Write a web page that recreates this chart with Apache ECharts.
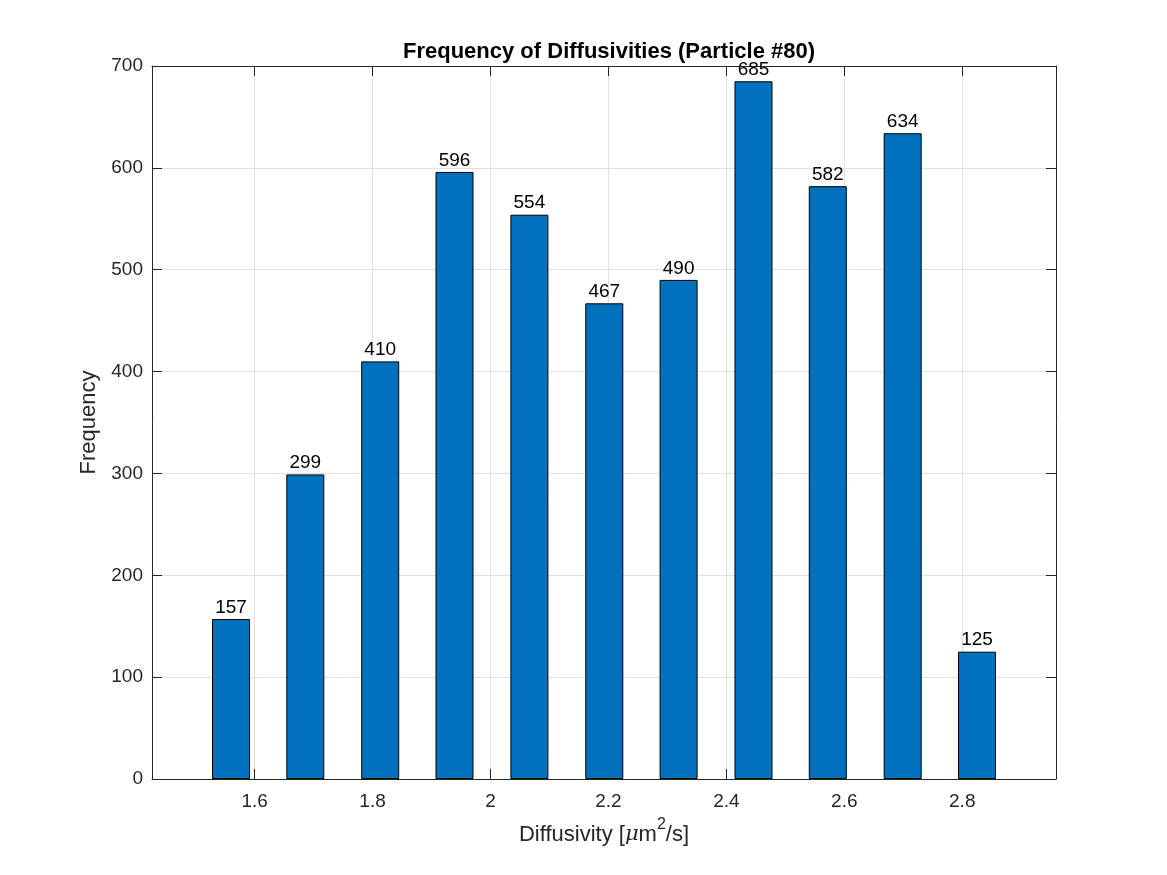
<!DOCTYPE html>
<html>
<head>
<meta charset="utf-8">
<script src="https://cdn.jsdelivr.net/npm/echarts@6/dist/echarts.min.js"></script>
<style>html,body{margin:0;padding:0;background:#fff}#c{width:1167px;height:875px}</style>
</head>
<body>
<div id="c"></div>
<script>
const binCenters = [1.560, 1.686, 1.813, 1.939, 2.066, 2.193, 2.319, 2.446, 2.572, 2.699, 2.825];
const counts = [157, 299, 410, 596, 554, 467, 490, 685, 582, 634, 125];
const xTicks = [1.6, 1.8, 2.0, 2.2, 2.4, 2.6, 2.8];
const titleText = 'Frequency of Diffusivities (Particle #80)';

const FONT = 'Liberation Sans, Arial, Helvetica, sans-serif';
const AX = '#262626';
const GRID = '#e0e0e0';
const X_MIN = 1.426, X_MAX = 2.959;

const chart = echarts.init(document.getElementById('c'));
const fmt = v => (Math.abs(v - Math.round(v)) < 1e-9 ? String(Math.round(v)) : String(+v.toFixed(1)));

const baseX = {
  type: 'value', min: X_MIN, max: X_MAX,
  axisLine: {show: true, onZero: false, lineStyle: {color: AX, width: 1}},
  axisTick: {show: true, inside: true, length: 10, lineStyle: {color: AX}, customValues: xTicks},
  splitLine: {show: false}
};

chart.setOption({
  animation: false,
  title: {
    text: titleText, left: 604, top: 36, textAlign: 'center',
    textStyle: {fontFamily: FONT, fontWeight: 'bold', fontSize: 22, color: '#000'}
  },
  grid: {left: 152, right: 111, top: 66, bottom: 96, containLabel: false},
  xAxis: [
    Object.assign({}, baseX, {
      position: 'bottom',
      axisLabel: {show: true, customValues: xTicks, formatter: fmt, color: AX, fontFamily: FONT, fontSize: 19, margin: 13},
      name: '{t|Diffusivity [}{mu|μ}{t|m}{sup|2}{t|/s]}',
      nameLocation: 'middle', nameGap: 38,
      nameTextStyle: {
        rich: {
          t: {fontFamily: FONT, fontSize: 22, lineHeight: 36, color: AX},
          mu: {fontFamily: 'DejaVu Serif, serif', fontStyle: 'italic', fontSize: 21, lineHeight: 36, color: AX},
          sup: {fontFamily: FONT, fontSize: 16, lineHeight: 16, color: AX, verticalAlign: 'top'}
        }
      }
    }),
    Object.assign({}, baseX, {position: 'top', axisLabel: {show: false}})
  ],
  yAxis: [
    {
      type: 'value', min: 0, max: 700, interval: 100, position: 'left',
      axisLine: {show: true, lineStyle: {color: AX, width: 1}},
      axisTick: {show: true, inside: true, length: 10, lineStyle: {color: AX}},
      axisLabel: {color: AX, fontFamily: FONT, fontSize: 19, margin: 9},
      splitLine: {show: true, lineStyle: {color: GRID, width: 1}},
      name: 'Frequency', nameLocation: 'middle', nameGap: 52, nameRotate: 90,
      nameTextStyle: {fontFamily: FONT, fontSize: 22, color: AX}
    },
    {
      type: 'value', min: 0, max: 700, interval: 100, position: 'right',
      axisLine: {show: true, lineStyle: {color: AX, width: 1}},
      axisTick: {show: true, inside: true, length: 10, lineStyle: {color: AX}},
      axisLabel: {show: false}, splitLine: {show: false}
    }
  ],
  series: [
    {
      type: 'bar', xAxisIndex: 0, yAxisIndex: 0, barWidth: 38,
      data: binCenters.map((c, i) => [c, counts[i]]),
      itemStyle: {color: '#0072BD', borderColor: '#000', borderWidth: 1},
      label: {show: true, position: 'top', distance: 2, color: '#000', fontFamily: FONT, fontSize: 19,
        formatter: p => String(p.value[1])},
      markLine: {
        silent: true, symbol: 'none', label: {show: false},
        lineStyle: {color: GRID, width: 1, type: 'solid'},
        z: 0,
        data: xTicks.map(v => ({xAxis: v}))
      },
      z: 3
    }
  ]
});
</script>
</body>
</html>
